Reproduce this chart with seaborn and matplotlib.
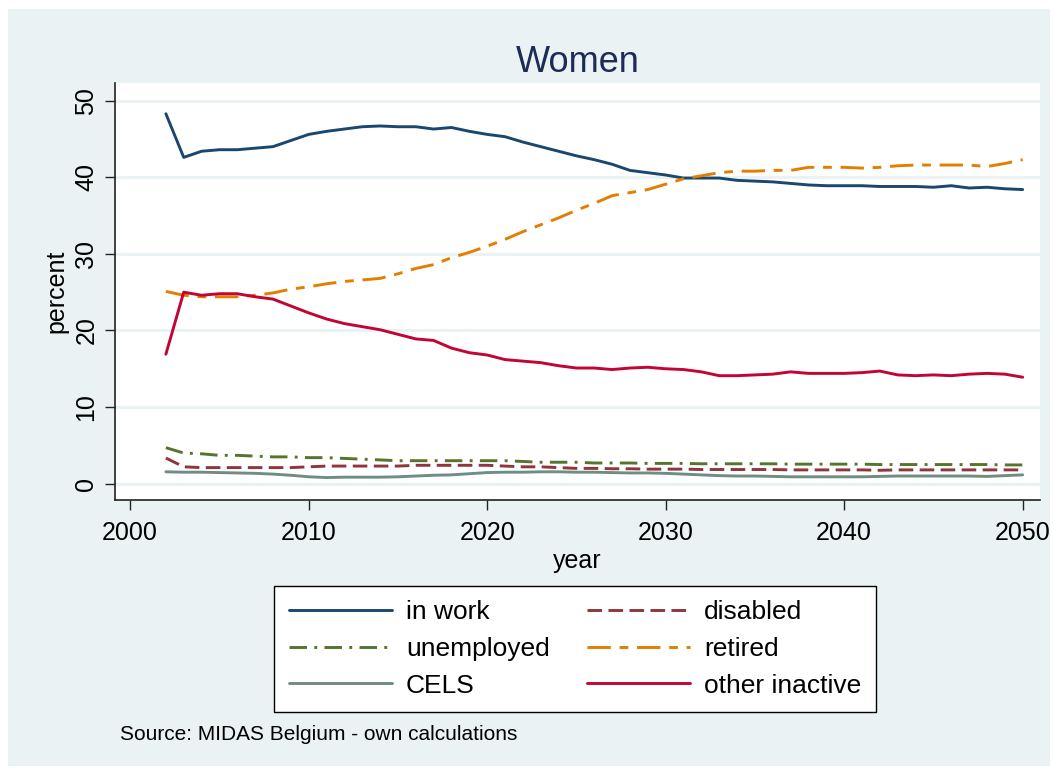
import numpy as np
import pandas as pd
import matplotlib
matplotlib.use("Agg")
import matplotlib.pyplot as plt
import seaborn as sns
from matplotlib.lines import Line2D
from matplotlib.patches import Rectangle

years = list(range(2002, 2051))

in_work = [48.3, 42.6, 43.4, 43.6, 43.6, 43.8, 44.0, 44.8, 45.6, 46.0,
           46.3, 46.6, 46.7, 46.6, 46.6, 46.3, 46.5, 46.0, 45.6, 45.3,
           44.6, 44.0, 43.4, 42.8, 42.3, 41.7, 40.9, 40.6, 40.3, 39.9,
           39.9, 39.9, 39.6, 39.5, 39.4, 39.2, 39.0, 38.9, 38.9, 38.9,
           38.8, 38.8, 38.8, 38.7, 38.9, 38.6, 38.7, 38.5, 38.4]

disabled = [3.35, 2.2, 2.1, 2.1, 2.1, 2.1, 2.1, 2.1, 2.2, 2.3,
            2.3, 2.3, 2.3, 2.3, 2.4, 2.4, 2.4, 2.4, 2.4, 2.3,
            2.2, 2.2, 2.1, 2.0, 2.0, 1.95, 1.95, 1.9, 1.9, 1.9,
            1.85, 1.85, 1.85, 1.85, 1.85, 1.8, 1.8, 1.8, 1.8, 1.8,
            1.75, 1.8, 1.8, 1.8, 1.8, 1.8, 1.8, 1.8, 1.8]

unemployed = [4.7, 4.0, 3.9, 3.7, 3.7, 3.6, 3.5, 3.5, 3.4, 3.4,
              3.3, 3.2, 3.1, 3.0, 3.0, 3.0, 3.0, 3.0, 3.0, 3.0,
              2.9, 2.8, 2.8, 2.8, 2.7, 2.7, 2.7, 2.65, 2.65, 2.65,
              2.6, 2.6, 2.6, 2.6, 2.6, 2.55, 2.55, 2.55, 2.55, 2.55,
              2.5, 2.5, 2.5, 2.5, 2.5, 2.5, 2.5, 2.45, 2.45]

retired = [25.1, 24.6, 24.4, 24.4, 24.4, 24.6, 24.9, 25.4, 25.7, 26.1,
           26.4, 26.6, 26.8, 27.4, 28.1, 28.6, 29.5, 30.2, 31.0, 31.9,
           32.9, 33.8, 34.7, 35.7, 36.6, 37.6, 38.0, 38.4, 39.1, 39.8,
           40.2, 40.6, 40.8, 40.8, 40.9, 40.9, 41.3, 41.3, 41.3, 41.2,
           41.3, 41.5, 41.6, 41.6, 41.6, 41.6, 41.4, 41.8, 42.3]

cels = [1.55, 1.5, 1.5, 1.45, 1.4, 1.35, 1.25, 1.1, 0.9, 0.8,
        0.85, 0.85, 0.85, 0.9, 1.0, 1.1, 1.15, 1.3, 1.45, 1.5,
        1.5, 1.55, 1.55, 1.5, 1.5, 1.45, 1.4, 1.4, 1.35, 1.25,
        1.15, 1.05, 1.0, 1.0, 0.95, 0.9, 0.9, 0.9, 0.9, 0.9,
        0.95, 1.0, 1.0, 1.0, 1.0, 1.0, 0.95, 1.05, 1.15]

other_inactive = [16.9, 25.0, 24.6, 24.8, 24.8, 24.4, 24.1, 23.2, 22.3, 21.5,
                  20.9, 20.5, 20.1, 19.5, 18.9, 18.7, 17.7, 17.1, 16.8, 16.2,
                  16.0, 15.8, 15.4, 15.1, 15.1, 14.9, 15.1, 15.2, 15.0, 14.9,
                  14.6, 14.1, 14.1, 14.2, 14.3, 14.6, 14.4, 14.4, 14.4, 14.5,
                  14.7, 14.2, 14.1, 14.2, 14.1, 14.3, 14.4, 14.3, 13.9]

series_names = ["in work", "disabled", "unemployed", "retired", "CELS", "other inactive"]
series_values = [in_work, disabled, unemployed, retired, cels, other_inactive]

colors = {"in work": "#1a476f", "disabled": "#90353b", "unemployed": "#55752f",
          "retired": "#e37e00", "CELS": "#6e8e84", "other inactive": "#c10534"}
dashes = {"in work": (None, None), "disabled": (5, 2.2), "unemployed": (6, 2.5, 1, 2.5),
          "retired": (8, 3, 3, 3), "CELS": (None, None), "other inactive": (None, None)}

df = pd.DataFrame({"year": np.tile(years, len(series_names)),
                   "value": np.concatenate(series_values),
                   "series": np.repeat(series_names, len(years))})

sns.set_theme(style="white")
plt.rcParams['font.family'] = ['Liberation Sans', 'DejaVu Sans']
plt.rcParams['text.color'] = 'black'
plt.rcParams['axes.labelcolor'] = 'black'
plt.rcParams['xtick.color'] = 'black'
plt.rcParams['ytick.color'] = 'black'

BG = "#eaf2f3"
fig = plt.figure(figsize=(10.54, 7.73), dpi=100, facecolor="white")
fig.patches.append(Rectangle((8/1054, 1-766/773), (1050-8)/1054, (766-9)/773,
                             transform=fig.transFigure, facecolor=BG, edgecolor="none", zorder=-10))

ax = fig.add_axes([115/1054, 1-500/773, (1040-115)/1054, (500-83)/773])
ax.set_facecolor("white")

for name in series_names:
    sub = df[df["series"] == name]
    d = dashes[name]
    sns.lineplot(data=sub, x="year", y="value", ax=ax, color=colors[name], linewidth=2.1, legend=False)
    ln = ax.lines[-1]
    if d[0] is not None:
        ln.set_dashes(d)

ax.set_xlim(1999.15, 2050.97)
ax.set_ylim(-2.13, 52.31)
ax.set_xticks([2000, 2010, 2020, 2030, 2040, 2050])
ax.set_yticks([0, 10, 20, 30, 40, 50])
ax.yaxis.grid(True, color=BG, linewidth=2.2)
ax.set_axisbelow(True)
ax.xaxis.grid(False)
for s in ["top", "right"]:
    ax.spines[s].set_visible(False)
for s in ["left", "bottom"]:
    ax.spines[s].set_color("#222222")
    ax.spines[s].set_linewidth(1.2)
ax.tick_params(axis="both", which="major", direction="out", length=7, width=1.0,
               color="#222222", labelsize=18, labelcolor="black", pad=5,
               bottom=True, left=True)
ax.tick_params(axis="x", pad=8)
for lab in ax.get_yticklabels():
    lab.set_rotation(90)
    lab.set_va("center")
ax.set_xlabel("year", fontsize=18, labelpad=3, color="black")
ax.set_ylabel("percent", fontsize=18, labelpad=4, color="black")

ax.set_title("Women", fontsize=26, color="#1c2b5a", pad=8)

order = ["in work", "unemployed", "CELS", "disabled", "retired", "other inactive"]
handles = []
for name in order:
    h = Line2D([0], [0], color=colors[name], linewidth=2.1)
    if dashes[name][0] is not None:
        h.set_dashes(dashes[name])
    handles.append(h)
leg = fig.legend(handles, order, ncol=2, loc="center",
                 bbox_to_anchor=(575/1054, 1-649/773), fontsize=19,
                 frameon=True, fancybox=False, edgecolor="black", facecolor="white",
                 framealpha=1.0,
                 handlelength=3.9, handletextpad=0.55, columnspacing=1.4,
                 labelspacing=0.48, borderpad=0.55)
leg.get_frame().set_linewidth(1.0)
for t in leg.get_texts():
    t.set_color("black")

fig.text(120/1054, 1-735/773, "Source: MIDAS Belgium - own calculations",
         fontsize=15, ha="left", va="center", color="black")

fig.savefig("out.png", dpi=100, facecolor="white")
